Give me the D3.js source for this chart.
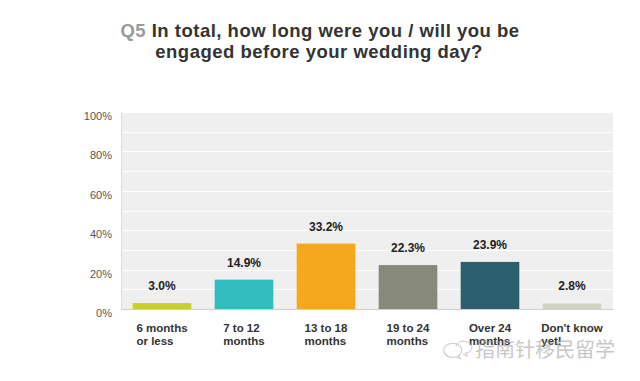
<!DOCTYPE html>
<html><head><meta charset="utf-8">
<script src="https://cdn.jsdelivr.net/npm/d3@7"></script>
<style>html,body{margin:0;padding:0;background:#fff;}svg{display:block;}</style>
</head><body>
<svg id="chart" width="640" height="381"></svg>
<script>
const categories = [["6 months","or less"],["7 to 12","months"],["13 to 18","months"],["19 to 24","months"],["Over 24","months"],["Don't know","yet!"]];
const values = [3.0, 14.9, 33.2, 22.3, 23.9, 2.8];
const colors = ["#c6cf2c","#33bcbd","#f6a81c","#878a7b","#2c5f6d","#d1d3c7"];
const yTicks = [0,20,40,60,80,100];
const gridTicks = [10,20,30,40,50,60,70,80,90,100];

const svg = d3.select("#chart");
const font = "Arial, 'Liberation Sans', sans-serif";
const m = {left:121, right:613, top:112, bottom:309};

const x = d3.scaleBand().domain(d3.range(values.length)).range([m.left, m.right]).paddingInner(0.285).paddingOuter(0.1425);
const y = d3.scaleLinear().domain([0,100]).range([m.bottom, m.top]);

// title
const title = svg.append("text").attr("x", 320).attr("y", 37).attr("text-anchor","middle")
  .style("font-family", font).style("font-weight","bold").style("font-size","18.5px").style("letter-spacing","0.5px");
title.append("tspan").attr("fill","#9a9a9a").text("Q5 ");
title.append("tspan").attr("fill","#333").text("In total, how long were you / will you be");
svg.append("text").attr("x", 319).attr("y", 58).attr("text-anchor","middle")
  .style("font-family", font).style("font-weight","bold").style("font-size","18.5px").style("letter-spacing","0.5px")
  .attr("fill","#333").text("engaged before your wedding day?");

// plot background
svg.append("rect").attr("x", m.left).attr("y", m.top).attr("width", m.right-m.left).attr("height", m.bottom-m.top).attr("fill","#efefef");
svg.append("g").selectAll("line").data(gridTicks).join("line")
  .attr("x1", m.left).attr("x2", m.right).attr("y1", d=>Math.round(y(d))+0.5).attr("y2", d=>Math.round(y(d))+0.5)
  .attr("stroke","#fff").attr("stroke-width",1);
svg.append("line").attr("x1", m.left+0.5).attr("x2", m.left+0.5).attr("y1", m.top).attr("y2", m.bottom).attr("stroke","#dcdcdc");
svg.append("line").attr("x1", m.left).attr("x2", m.right).attr("y1", m.bottom+0.5).attr("y2", m.bottom+0.5).attr("stroke","#cfcfcf");

// y axis
const yAxis = d3.axisLeft(y).tickValues(yTicks).tickFormat(d=>d+"%").tickSize(0).tickPadding(9);
const gy = svg.append("g").attr("transform", `translate(${m.left},4)`).call(yAxis);
gy.select(".domain").remove();
gy.selectAll("text").style("font-family", font).style("font-size","11px").attr("fill","#555");

// bars
svg.append("g").selectAll("rect").data(values).join("rect")
  .attr("x", (d,i)=>x(i)).attr("width", x.bandwidth())
  .attr("y", d=>y(d)).attr("height", d=>y(0)-y(d))
  .attr("fill", (d,i)=>colors[i]);

// value labels
svg.append("g").selectAll("text").data(values).join("text")
  .attr("x", (d,i)=>x(i)+x.bandwidth()/2).attr("y", d=>y(d)-13)
  .attr("text-anchor","middle").style("font-family", font).style("font-weight","bold").style("font-size","12px")
  .attr("fill","#222").text(d=>d.toFixed(1)+"%");

// x labels
const xl = svg.append("g");
categories.forEach((lines,i)=>{
  const t = xl.append("text").style("font-family", font).style("font-weight","bold").style("font-size","11.5px").attr("fill","#333");
  const spans = lines.map((l,j)=>t.append("tspan").attr("y", 332 + j*12.5).text(l));
  const w = d3.max(spans, s=>s.node().getComputedTextLength());
  const cx = x(i)+x.bandwidth()/2;
  spans.forEach(s=>s.attr("x", cx - w/2));
});

// watermark
const wm = svg.append("g").attr("opacity",0.55);
wm.append("path").attr("d","M444,352 a9,7 0 1,1 14,4 l3,3 l-5,-2 a9,7 0 0,1 -12,-5 Z").attr("fill","none").attr("stroke","#aaa").attr("stroke-width",1.2);
wm.append("path").attr("d","M456,346 a8,6 0 1,1 10,7 l1,3 l-4,-2").attr("fill","none").attr("stroke","#aaa").attr("stroke-width",1.2);
wm.append("text").attr("x", 475).attr("y", 357).style("font-family","'Noto Sans CJK SC', sans-serif").style("font-size","20px")
  .attr("fill","#9a9a9a").text("指南针移民留学");
</script>
</body></html>
